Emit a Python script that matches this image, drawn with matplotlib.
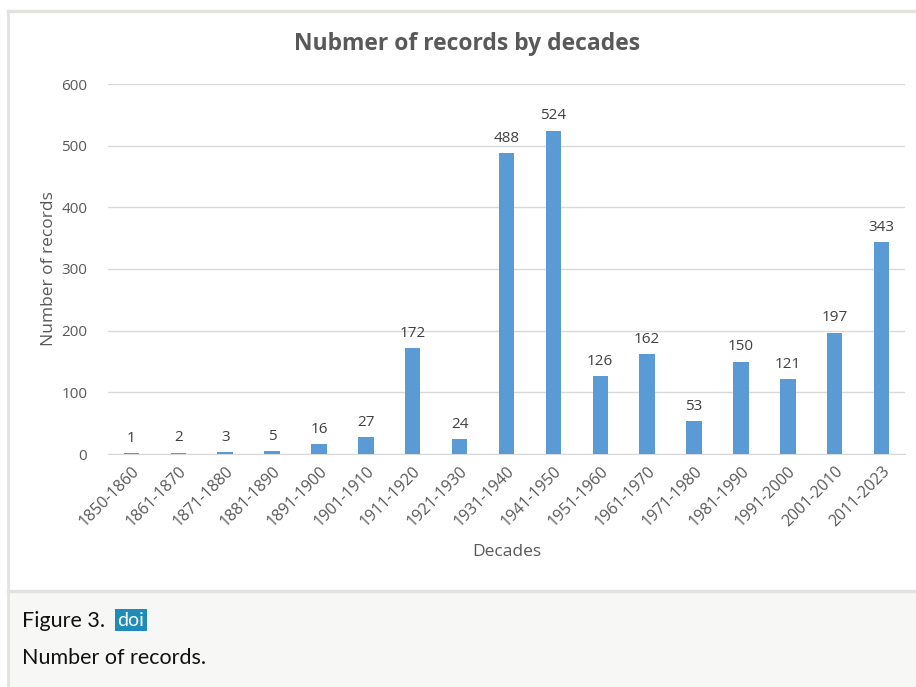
import matplotlib
matplotlib.use("Agg")
import matplotlib.pyplot as plt
from matplotlib.patches import Rectangle

decades = ["1850-1860", "1861-1870", "1871-1880", "1881-1890", "1891-1900",
           "1901-1910", "1911-1920", "1921-1930", "1931-1940", "1941-1950",
           "1951-1960", "1961-1970", "1971-1980", "1981-1990", "1991-2000",
           "2001-2010", "2011-2023"]
records = [1, 2, 3, 5, 16, 27, 172, 24, 488, 524, 126, 162, 53, 150, 121, 197, 343]
yticks = [0, 100, 200, 300, 400, 500, 600]

W, H = 916, 687
fig = plt.figure(figsize=(W / 100, H / 100), dpi=100)
fig.patch.set_facecolor("white")

def fx(px):
    return px / W

def fy(py):
    return 1 - py / H

# caption background
fig.patches.append(Rectangle((fx(8), 0), fx(916 - 8), (687 - 592) / H, transform=fig.transFigure,
                             facecolor="#f7f7f5", edgecolor="none", zorder=-5))
# border lines
fig.add_artist(plt.Line2D([fx(8), 1], [fy(11), fy(11)], transform=fig.transFigure, color="#e2e2de", lw=2.5, zorder=-4))
fig.add_artist(plt.Line2D([fx(8), fx(8)], [0, fy(11)], transform=fig.transFigure, color="#e2e2de", lw=2, zorder=-4))
fig.add_artist(plt.Line2D([fx(8), 1], [fy(591), fy(591)], transform=fig.transFigure, color="#e2e2de", lw=2.5, zorder=-4))

ax = fig.add_axes([fx(108), fy(454), fx(905 - 108), (454 - 84) / H])
ax.set_zorder(2)
ax.set_facecolor("none")
x = list(range(len(decades)))
bars = ax.bar(x, records, width=0.33, color="#5b9bd5", zorder=3)
ax.set_xlim(-0.5, len(decades) - 0.5)
ax.set_ylim(0, 600)
ax.set_yticks(yticks)
ax.set_yticklabels([str(v) for v in yticks])
ax.grid(axis="y", color="#d9d9d9", lw=1, zorder=0)
for s in ["top", "right", "left"]:
    ax.spines[s].set_visible(False)
ax.spines["bottom"].set_color("#d9d9d9")
ax.tick_params(axis="both", length=0, colors="#595959", labelsize=11)
ax.tick_params(axis="y", pad=15)
ax.tick_params(axis="x", pad=7)
ax.set_xticks(x)
ax.set_xticklabels(decades, rotation=45, ha="right", rotation_mode="anchor",
                   fontsize=11.5, color="#595959", family="Open Sans")
for lbl in ax.get_yticklabels():
    lbl.set_family("Open Sans")
for xi, v in zip(x, records):
    ax.text(xi, v + 12, str(v), ha="center", va="bottom", fontsize=11,
            color="#404040", family="Open Sans")

ax.set_ylabel("Number of records", fontsize=12.5, color="#595959", family="Open Sans", labelpad=3)
ax.set_xlabel("Decades", fontsize=12.5, color="#595959", family="Open Sans", labelpad=10)

fig.text(fx(467), fy(44), "Nubmer of records by decades", ha="center", va="center",
         fontsize=16.5, fontweight="bold", color="#595959", family="Open Sans")

# caption
fig.text(fx(22), fy(621), "Figure 3.", ha="left", va="center", fontsize=15.5,
         color="#111111", family="Lato")
fig.text(fx(131), fy(620), "doi", ha="center", va="center", fontsize=14,
         color="white", family="Lato",
         bbox=dict(boxstyle="square,pad=0.15", facecolor="#1f8cb8", edgecolor="none"))
fig.text(fx(22), fy(658), "Number of records.", ha="left", va="center", fontsize=15.5,
         color="#111111", family="Lato")

fig.savefig("out.png", dpi=100)
